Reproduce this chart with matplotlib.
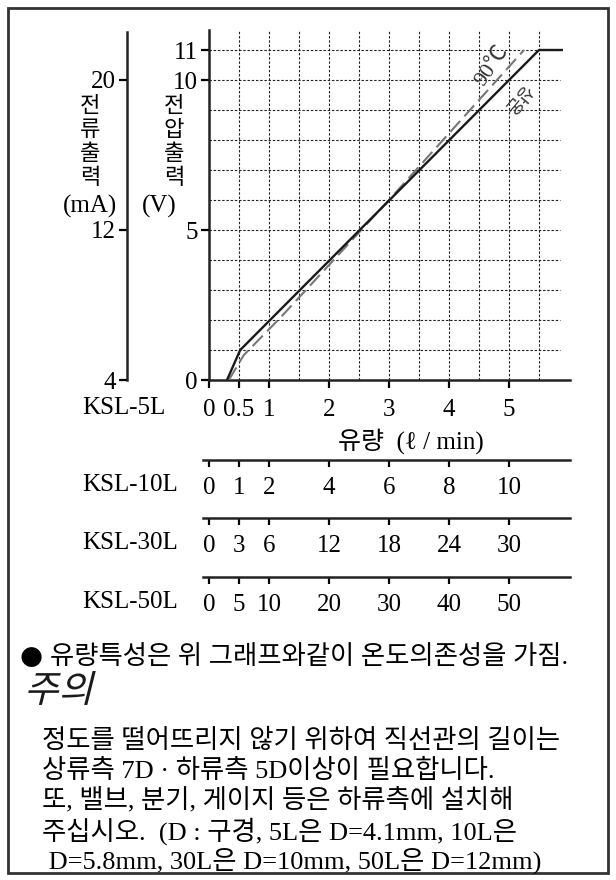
import matplotlib
matplotlib.use("Agg")
import matplotlib.pyplot as plt
from matplotlib.patches import Rectangle, PathPatch
from matplotlib.textpath import TextPath
from matplotlib.font_manager import FontProperties
from matplotlib.transforms import Affine2D

plt.rcParams['font.family'] = ['Liberation Serif', 'Noto Sans CJK KR', 'DejaVu Sans']

# 출력 특성 (KSL-5L 기준 유량 l/min, 전압 V)
flow_room = [0.30, 0.52, 5.50, 5.88]
volt_room = [0.0, 1.0, 11.0, 11.0]
flow_90 = [0.33, 0.58, 1.20, 3.00, 5.25]
volt_90 = [0.0, 0.83, 2.10, 6.00, 11.0]

volt_ticks = [0, 5, 10, 11]
ma_ticks = [4, 12, 20]
flow_ticks_5l = [0, 0.5, 1, 2, 3, 4, 5]
flow_labels_5l = ['0', '0.5', '1', '2', '3', '4', '5']

# 기종별 유량 눈금
models = ['KSL-10L', 'KSL-30L', 'KSL-50L']
model_factor = [2, 6, 10]
model_ticks = [[0, 1, 2, 4, 6, 8, 10],
               [0, 3, 6, 12, 18, 24, 30],
               [0, 5, 10, 20, 30, 40, 50]]

W, H = 616, 880
fig = plt.figure(figsize=(W / 100, H / 100), dpi=100)


def fx(px):
    return px / W


def fy(py):
    return 1 - py / H


# 바깥 테두리
fig.patches.append(Rectangle((fx(8), fy(873)), (608 - 8) / W, (873 - 8) / H,
                             transform=fig.transFigure, fill=False,
                             lw=2, edgecolor='#333333'))

# 메인 그래프
x0, x1, y0, y1 = 209, 570, 380, 30
xmax = (x1 - x0) / 60
ymax = (y0 - y1) / 30
ax = fig.add_axes([fx(x0), fy(y0), (x1 - x0) / W, (y0 - y1) / H])
ax.set_xlim(0, xmax)
ax.set_ylim(0, ymax)
for s in ['top', 'right']:
    ax.spines[s].set_visible(False)
for s in ['left', 'bottom']:
    ax.spines[s].set_linewidth(1.8)
    ax.spines[s].set_color('#222222')

grid_style = dict(color='#222222', lw=0.8, linestyle=(0, (2.2, 1.6)), zorder=1)
ax.hlines(range(1, 12), 0, 5.85, **grid_style)
ax.vlines([0.5 * i for i in range(1, 12)], 0, ymax, **grid_style)

ax.plot(flow_90, volt_90, color='#777777', lw=1.5, linestyle=(0, (7, 3)), zorder=3)
ax.plot(flow_room, volt_room, color='#1a1a1a', lw=1.7, zorder=4)

ax.set_yticks(volt_ticks)
ax.set_yticklabels([str(v) for v in volt_ticks])
ax.set_xticks(flow_ticks_5l)
ax.set_xticklabels(flow_labels_5l)
ax.tick_params(axis='y', length=6, width=1.6, pad=2, labelsize=18)
ax.tick_params(axis='x', length=6, width=1.6, pad=8, labelsize=18)

ax.text(4.72, 10.45, '90℃', rotation=55, ha='center', va='center',
        fontsize=16, color='#333333')
ax.text(5.12, 9.40, '상온', rotation=230, ha='center', va='center',
        fontsize=13, color='#333333')

# 전류출력 축
axl = fig.add_axes([fx(127), fy(380), 0.0005, (380 - 32) / H])
axl.set_ylim(4, 4 + 1.6 * ymax * (380 - 32) / (380 - 30))
axl.set_xticks([])
axl.set_yticks(ma_ticks)
axl.set_yticklabels([str(v) for v in ma_ticks])
for s in ['top', 'right', 'bottom']:
    axl.spines[s].set_visible(False)
axl.spines['left'].set_linewidth(1.8)
axl.spines['left'].set_color('#222222')
axl.tick_params(axis='y', length=6, width=1.6, pad=2, labelsize=18)
axl.patch.set_visible(False)

# 세로 축 제목 (한 글자씩 아래로)
for lx, word in [(90, '전류출력'), (174, '전압출력')]:
    for i, ch in enumerate(word):
        fig.text(fx(lx), fy(107 + 24 * i), ch, ha='center', va='center',
                 fontsize=16)
fig.text(fx(90), fy(206), '(mA)', ha='center', va='center', fontsize=18)
fig.text(fx(159), fy(206), '(V)', ha='center', va='center', fontsize=18)

fig.text(fx(82), fy(408), 'KSL-5L', ha='left', va='center', fontsize=18)
fig.text(fx(411), fy(441), '유량  (ℓ / min)', ha='center', va='center', fontsize=18)

# 기종별 눈금 축
rows_y = [460, 518, 577]
lab_y = [485, 543, 602]
for name, f, ticks, ry, ly in zip(models, model_factor, model_ticks, rows_y, lab_y):
    a = fig.add_axes([fx(203), fy(ry), (570 - 203) / W, 0.0005])
    a.set_xlim(-0.1 * f, xmax * f)
    a.set_yticks([])
    a.set_xticks(ticks)
    a.set_xticklabels([str(t) for t in ticks])
    for s in ['top', 'left', 'right']:
        a.spines[s].set_visible(False)
    a.spines['bottom'].set_linewidth(1.8)
    a.spines['bottom'].set_color('#222222')
    a.tick_params(axis='x', length=5, width=1.6, pad=7, labelsize=18)
    a.patch.set_visible(False)
    fig.text(fx(82), fy(ly), name, ha='left', va='center', fontsize=18)

# 설명문
fig.text(fx(20), fy(657), '●', ha='left', va='center', fontsize=19,
         family='DejaVu Sans')
fig.text(fx(50), fy(657), '유량특성은 위 그래프와같이 온도의존성을 가짐.',
         ha='left', va='center', fontsize=19)

# '주의' (기울인 글씨)
tp = TextPath((0, 0), '주의', size=27, prop=FontProperties(family='Noto Sans CJK KR'))
tr = Affine2D().skew_deg(14, 0).scale(100 / 72).translate(24, H - 702)
fig.add_artist(PathPatch(tp, transform=tr, facecolor='#1a1a1a', edgecolor='none'))

notes = ['정도를 떨어뜨리지 않기 위하여 직선관의 길이는',
         '상류측 7D · 하류측 5D이상이 필요합니다.',
         '또, 밸브, 분기, 게이지 등은 하류측에 설치해',
         '주십시오.  (D : 구경, 5L은 D=4.1mm, 10L은',
         ' D=5.8mm, 30L은 D=10mm, 50L은 D=12mm)']
note_y = [741, 771, 800, 831, 861]
for t, yy in zip(notes, note_y):
    fig.text(fx(42), fy(yy), t, ha='left', va='center', fontsize=19)

fig.savefig('out.png', dpi=100)
